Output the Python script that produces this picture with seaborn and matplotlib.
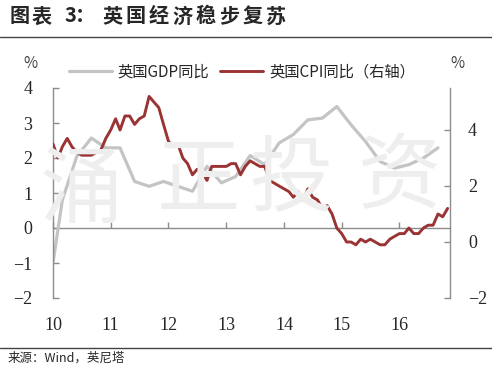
import pandas as pd
import numpy as np
import seaborn as sns
import matplotlib.pyplot as plt
import matplotlib.dates as mdates
from matplotlib.lines import Line2D

# monthly UK CPI yoy (right axis), Jan 2010 - Nov 2016
cpi_dates = pd.date_range('2010-01-01', '2016-11-01', freq='MS')
cpi_values = [3.5, 3.0, 3.4, 3.7, 3.4, 3.2, 3.1, 3.1, 3.1, 3.2, 3.3, 3.7,
              4.0, 4.4, 4.0, 4.5, 4.5, 4.2, 4.4, 4.5, 5.2, 5.0, 4.8, 4.2,
              3.6, 3.4, 3.5, 3.0, 2.8, 2.4, 2.6, 2.5, 2.2, 2.7, 2.7, 2.7,
              2.7, 2.8, 2.8, 2.4, 2.7, 2.9, 2.8, 2.7, 2.7, 2.2, 2.1, 2.0,
              1.9, 1.8, 1.6, 1.8, 1.5, 1.9, 1.6, 1.5, 1.2, 1.3, 1.0, 0.5,
              0.3, 0.0, 0.0, -0.1, 0.1, 0.0, 0.1, 0.0, -0.1, -0.1, 0.1, 0.2,
              0.3, 0.3, 0.5, 0.3, 0.3, 0.5, 0.6, 0.6, 1.0, 0.9, 1.2]

# quarterly UK GDP yoy (left axis)
gdp_dates = pd.DatetimeIndex(['2010-01-01']).append(
    pd.date_range('2010-03-01', '2016-09-01', freq='3MS'))
gdp_values = [-1.0, 0.8, 2.05, 2.57, 2.29, 2.29, 1.33, 1.19, 1.33, 1.19,
              1.05, 1.76, 1.29, 1.47, 2.07, 1.81, 2.43, 2.67, 3.09, 3.14,
              3.47, 2.95, 2.47, 1.90, 1.71, 1.81, 2.0, 2.29]

year_ticks = pd.date_range('2010-01-01', '2016-01-01', freq='YS')
left_ticks = [-2, -1, 0, 1, 2, 3, 4]
right_ticks = [-2, 0, 2, 4]

title = '图表3：英国经济稳步复苏'
source = '来源：Wind，英尼塔'
watermark = ['涌', '正', '投', '资']

sns.set_style('white')
plt.rcParams['font.family'] = ['Noto Sans CJK SC', 'DejaVu Sans']
num_font = 'Liberation Serif'
spine_col = '#8c8c8c'

fig = plt.figure(figsize=(4.92, 3.69), dpi=100)
ax = fig.add_axes([53/492, 1-298/369, 397/492, 210/369])

# faint watermark behind the lines
for ch, (wx, wy) in zip(watermark, [(82, 192), (198, 182), (291, 180), (400, 178)]):
    fig.text(wx/492, 1-wy/369, ch, fontsize=60, color='#eeeeee', fontweight='light',
             ha='center', va='center', zorder=0)

sns.lineplot(x=gdp_dates, y=gdp_values, ax=ax, color='#c4c4c4', linewidth=2.3,
             label='英国GDP同比', legend=False)
ax2 = ax.twinx()
sns.lineplot(x=cpi_dates, y=cpi_values, ax=ax2, color='#9a3434', linewidth=2.1,
             label='英国CPI同比（右轴）', legend=False)

ax.set_xlim(pd.Timestamp('2010-01-01'), pd.Timestamp('2016-11-16'))
ax.set_ylim(-2, 4)
ax2.set_ylim(-2, 5.5)
ax.set_xlabel('')
ax.set_ylabel('')
ax2.set_ylabel('')

ax.set_yticks(left_ticks)
ax2.set_yticks(right_ticks)
ax.set_xticks(year_ticks)
ax.xaxis.set_major_formatter(mdates.DateFormatter('%y'))

for a in (ax, ax2):
    for s in a.spines.values():
        s.set_visible(False)
        s.set_color(spine_col)
        s.set_linewidth(1.0)
ax.spines['left'].set_visible(True)
ax2.spines['right'].set_visible(True)

ax.tick_params(axis='y', direction='in', length=4, width=1, color=spine_col,
               labelsize=13, pad=15, left=True)
ax2.tick_params(axis='y', direction='in', length=4, width=1, color=spine_col,
                labelsize=13, pad=13, right=True)
ax.tick_params(axis='x', length=0, labelsize=13, pad=14)
for lab in ax.get_xticklabels() + ax.get_yticklabels() + ax2.get_yticklabels():
    lab.set_fontfamily(num_font)

# zero line with year ticks
zero_ax = ax.secondary_xaxis(1/3)
zero_ax.set_xticks(mdates.date2num(year_ticks))
zero_ax.tick_params(axis='x', direction='in', length=4, width=1, color=spine_col,
                    labelbottom=False, labeltop=False)
for s in zero_ax.spines.values():
    s.set_color(spine_col)
    s.set_linewidth(1.0)

h1, l1 = ax.get_legend_handles_labels()
h2, l2 = ax2.get_legend_handles_labels()
fig.legend(h1 + h2, l1 + l2, loc='center', bbox_to_anchor=(242/492, 1-72/369),
           ncol=2, frameon=False, fontsize=11, handlelength=2.8,
           handletextpad=0.4, columnspacing=0.7)

fig.text(30/492, 1-64/369, '%', fontsize=11, color='#444444', ha='center', va='center')
fig.text(457/492, 1-64/369, '%', fontsize=11, color='#444444', ha='center', va='center')

# title drawn char by char to get the wide spacing
title_x = [20, 42, 70, 85] + [112.5 + 23.3 * i for i in range(8)]
for ch, tx in zip(title, title_x):
    fig.text(tx/492, 1-16/369, ch, fontsize=14.5, fontweight='bold',
             ha='center', va='center')
fig.add_artist(Line2D([0, 1], [1-37/369, 1-37/369], transform=fig.transFigure,
                      color='#444444', linewidth=1))
fig.add_artist(Line2D([0, 1], [1-348/369, 1-348/369], transform=fig.transFigure,
                      color='#444444', linewidth=1))
fig.text(8/492, 1-358/369, source, fontsize=9, va='center')

fig.savefig('out.png', dpi=100)
